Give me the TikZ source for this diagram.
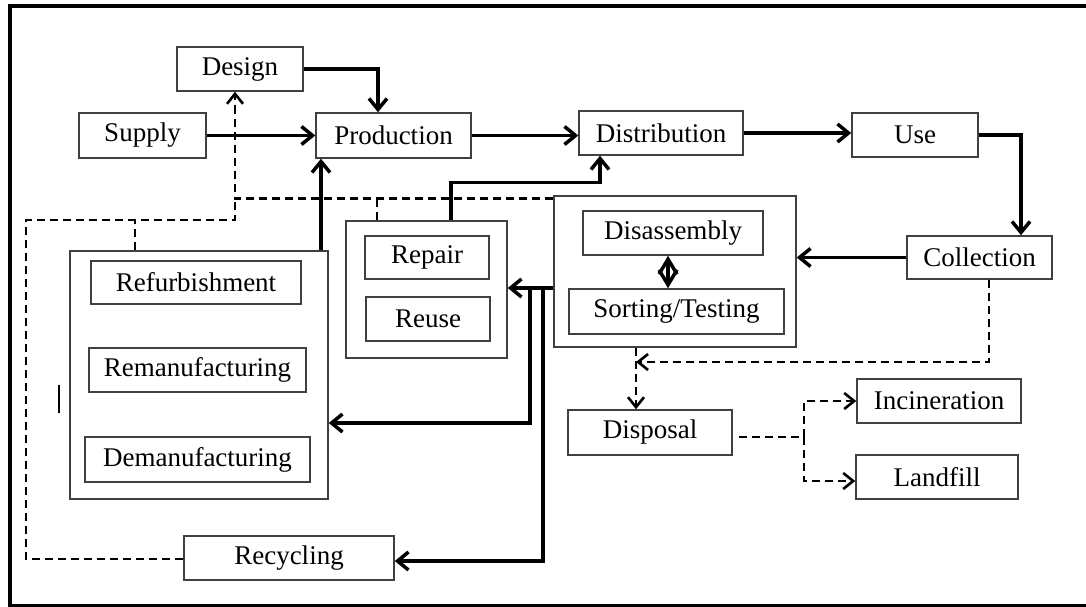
\documentclass[tikz,border=0pt]{standalone}
\usepackage{fontspec}
\setmainfont{Liberation Serif}
\usetikzlibrary{arrows.meta}

\begin{document}
\begin{tikzpicture}[x=1pt,y=-1pt,
    every node/.style={inner sep=0pt,font=\fontsize{27}{32}\selectfont},
    blk/.style 2 args={draw=black!75,line width=1.5pt,minimum width=#1,minimum height=#2},
    flow/.style={line width=3.5pt,-{Straight Barb[length=11pt,width=18pt]}},
    back/.style={line width=2.6pt,dash pattern=on 8pt off 5pt},
    backarr/.style={back,-{Straight Barb[length=10pt,width=16pt]}},
    twoway/.style={line width=3.5pt,{Straight Barb[length=15pt,width=18pt]}-{Straight Barb[length=15pt,width=18pt]}}]
            \useasboundingbox (0,0) rectangle (1086,607);
            \draw [line width=3.5pt] (1095,6) -- (10,6) -- (10,606) -- (1095,606);
            \node [blk={126}{44}] (design) at (240,69) {Design};
            \node [blk={127}{45}] (supply) at (142.5,135.5) {Supply};
            \node [blk={155}{45}] (production) at (393.5,135.5) {Production};
            \node [blk={164}{44}] (distribution) at (661,133) {Distribution};
            \node [blk={126}{44}] (use) at (915,135) {Use};
            \node [blk={145}{43}] (collection) at (979.5,257.5) {Collection};
            \node [blk={258}{248}] (refurbgroup) at (199,375) {};
            \node [blk={210}{43}] (refurbishment) at (196,282.5) {Refurbishment};
            \node [blk={217}{44}] (remanufacturing) at (197.5,370) {Remanufacturing};
            \node [blk={225}{45}] (demanufacturing) at (197.5,459.5) {Demanufacturing};
            \node [blk={161}{137}] (repairgroup) at (426.5,289.5) {};
            \node [blk={124}{43}] (repair) at (427,257.5) {Repair};
            \node [blk={124}{44}] (reuse) at (428,319) {Reuse};
            \node [blk={242}{151}] (disgroup) at (675,271.5) {};
            \node [blk={180}{44}] (disassembly) at (673,233) {Disassembly};
            \node [blk={215}{45}] (sorting) at (676.5,311.5) {Sorting/Testing};
            \node [blk={164}{45}] (disposal) at (650,432.5) {Disposal};
            \node [blk={164}{44}] (incineration) at (939,401) {Incineration};
            \node [blk={162}{44}] (landfill) at (937,477) {Landfill};
            \node [blk={210}{44}] (recycling) at (289,558) {Recycling};
            \coordinate (tapa) at (530,288);
            \coordinate (tapb) at (543,288);
            \coordinate (loopcorner) at (26,220);
            \coordinate (designjoin) at (235,199);
            \coordinate (fork) at (804,437);
            \draw [flow] (design.east) -| ([xshift=-15.5pt]production.north);
            \draw [flow] (supply.east) -- (production.west);
            \draw [flow] (production.east) -- (production.east -| distribution.west);
            \draw [flow] (distribution.east) -- (distribution.east -| use.west);
            \draw [flow] (use.east) -| ([xshift=41.5pt]collection.north);
            \draw [flow] (collection.west) -- (collection.west -| disgroup.east);
            \draw [flow] (tapb -| disgroup.west) -- (tapb -| repairgroup.east);
            \draw [flow] (tapa) |- ([yshift=-48pt]refurbgroup.east);
            \draw [flow] (tapb) |- ([yshift=-3pt]recycling.east);
            \draw [flow] ([xshift=24.5pt]repairgroup.north) -- ++(0,-38) -| ([xshift=-61pt]distribution.south);
            \draw [flow] ([xshift=122pt]refurbgroup.north) -- ([xshift=-72.5pt]production.south);
            \draw [twoway] ([xshift=-5pt]disassembly.south) -- ([xshift=-5pt]disassembly.south |- sorting.north);
            \draw [backarr] ([yshift=-3pt]disgroup.north west) -| ([xshift=-5pt]design.south);
            \draw [back] ([xshift=-49.5pt]repairgroup.north) -- ++(0,-22);
            \draw [back] ([xshift=-64pt]refurbgroup.north) -- ++(0,-31);
            \draw [back] ([yshift=-1pt]recycling.west) -| (loopcorner) -| (designjoin);
            \draw [backarr] ([xshift=9.5pt]collection.south) |- ([xshift=-39pt]disgroup.south |- 0,362);
            \draw [backarr] ([xshift=-39pt]disgroup.south) -- ([xshift=-14pt]disposal.north);
            \draw [back] ([xshift=6pt,yshift=-4.5pt]disposal.east) -- (fork);
            \draw [backarr] (fork) |- (incineration.west);
            \draw [backarr] (fork) |- ([yshift=-4pt]landfill.west);
            \draw [line width=1.5pt] (59,385) -- (59,413);
        \end{tikzpicture}
\end{document}
